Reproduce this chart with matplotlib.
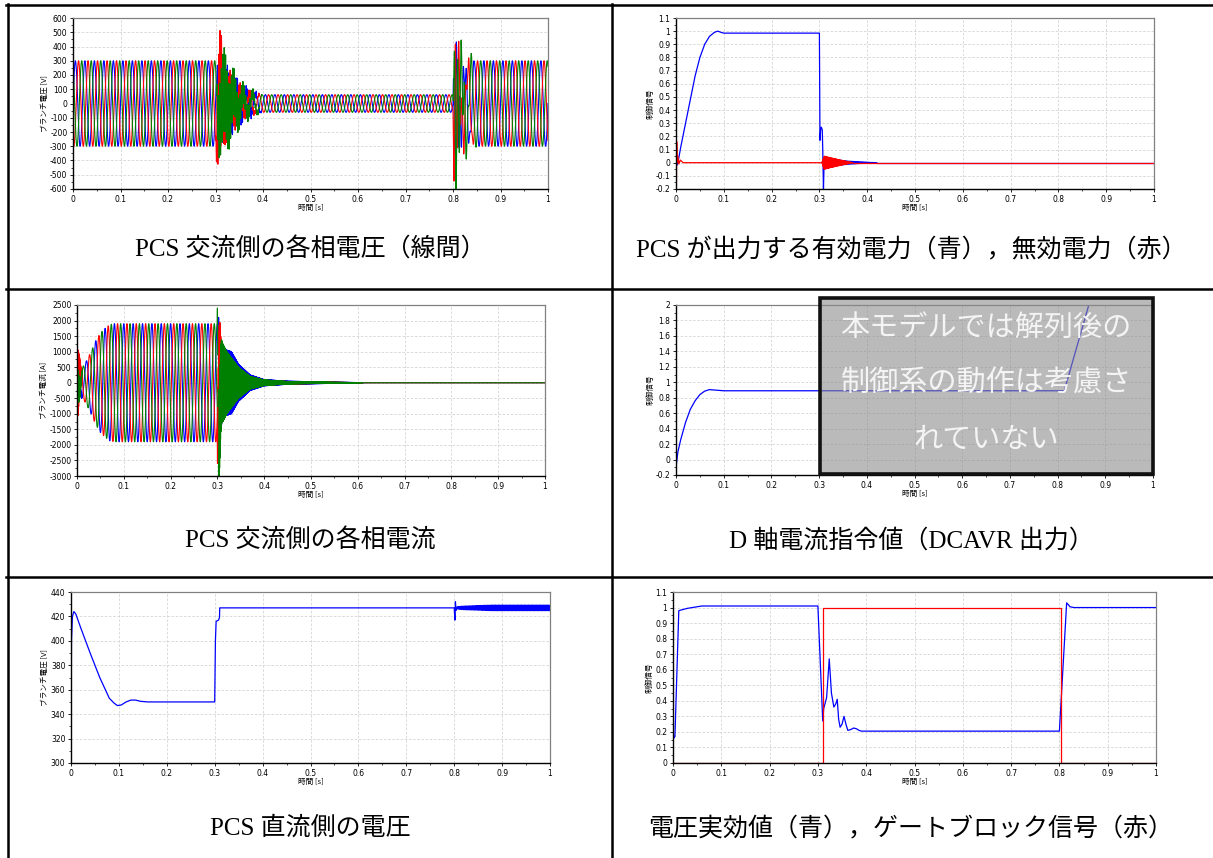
"""Six-panel PCS islanding simulation sheet (Scilab-style plots inside a table)."""
import numpy as np
import matplotlib
matplotlib.use("Agg")
import matplotlib.pyplot as plt
from matplotlib.lines import Line2D
from matplotlib.patches import Rectangle

JP = ["Noto Sans CJK JP", "DejaVu Sans"]
SERIF_JP = ["Liberation Serif", "Noto Sans CJK JP"]
plt.rcParams["font.family"] = ["DejaVu Sans", "Noto Sans CJK JP"]

W, H = 1213, 858

# ---------------- common x axis ----------------
x_ticks = [0, 0.1, 0.2, 0.3, 0.4, 0.5, 0.6, 0.7, 0.8, 0.9, 1.0]
x_labels = ["0", "0.1", "0.2", "0.3", "0.4", "0.5", "0.6", "0.7", "0.8", "0.9", "1"]
F_GRID = 50.0                      # fundamental [Hz]
phase_colors = ["blue", "red", "green"]
phase_shift_deg = [0, -120, 120]

# ---------------- panel 1: AC line voltages [V] ----------------
v_fund_t = [0.0, 0.300, 0.310, 0.360, 0.400, 0.800, 0.806, 0.830, 0.845, 1.0]
v_fund_a = [300, 300, 110, 75, 62, 62, 120, 260, 300, 300]
v_tr1_t = [0.300, 0.304, 0.310, 0.320, 0.335, 0.360, 0.400]
v_tr1_blue = [0, 60, 150, 190, 130, 60, 0]
v_tr1_red = [0, 300, 430, 200, 120, 40, 0]
v_tr1_green = [0, 150, 280, 290, 180, 70, 0]
v_tr2_t = [0.800, 0.802, 0.806, 0.815, 0.830, 0.850]
v_tr2_blue = [0, 480, 350, 200, 100, 0]
v_tr2_red = [0, 540, 450, 200, 100, 0]
v_tr2_green = [0, 300, 540, 300, 120, 0]

# ---------------- panel 3: AC phase currents [A] ----------------
i_fund_t = [0.0, 0.005, 0.010, 0.020, 0.030, 0.040, 0.050, 0.060, 0.070, 0.080, 0.303, 0.310]
i_fund_a = [0, 250, 450, 700, 1000, 1350, 1600, 1750, 1870, 1900, 1900, 0]
i_hf_t = [0.0, 0.002, 0.008, 0.012, 0.301, 0.303, 0.310, 0.320, 0.330,
          0.345, 0.370, 0.400, 0.450, 0.550, 0.620]
i_hf_blue = [0, 400, 100, 0, 0, 1000, 1100, 1050, 1000, 600, 250, 100, 50, 20, 0]
i_hf_red = [0, 1100, 200, 0, 0, 800, 700, 650, 550, 400, 200, 80, 40, 15, 0]
i_hf_green = [0, 550, 150, 0, 0, 1500, 1300, 1000, 800, 500, 200, 90, 40, 15, 0]
i_spike_red_t = [0.2996, 0.3002, 0.3008]
i_spike_red_v = [-1500, -2600, -800]
i_spike_green_t = [0.2994, 0.3000, 0.3006]
i_spike_green_v = [1500, 2400, 900]

# ---------------- panel 2: active (blue) / reactive (red) power ----------------
p_t = [0, 0.002, 0.004, 0.01, 0.02, 0.03, 0.04, 0.05, 0.06, 0.07, 0.08, 0.087, 0.095,
       0.1, 0.3, 0.3012, 0.3025, 0.304, 0.306, 0.307, 0.3085, 0.3095, 0.311]
p_v = [0, -0.02, 0.0, 0.12, 0.30, 0.48, 0.66, 0.80, 0.90, 0.96, 0.99, 1.0, 0.99,
       0.985, 0.985, 0.17, 0.25, 0.27, 0.25, 0.1, -0.2, -0.05, 0.0]
p_osc_t = [0.311, 0.315, 0.330, 0.360, 0.420]
p_osc_a = [0.04, 0.03, 0.025, 0.012, 0.0]
p_tail_t = [0.420, 1.0]
p_tail_v = [0.0, 0.0]
q_t = [0, 0.0008, 0.0015, 0.0025, 0.004, 0.006, 0.009, 0.015, 0.03, 0.305]
q_v = [0, -0.2, 0.16, 0.0, 0.05, -0.01, 0.02, 0.0, 0.0, 0.0]
q_osc_t = [0.305, 0.310, 0.320, 0.350, 0.370]
q_osc_a = [0.0, 0.05, 0.04, 0.015, 0.0]
q_tail_t = [0.370, 1.0]
q_tail_v = [0.0, 0.0]

# ---------------- panel 4: D-axis current command ----------------
d_t = [0, 0.001, 0.004, 0.01, 0.02, 0.03, 0.04, 0.05, 0.06, 0.07, 0.08, 0.1, 0.814, 0.87]
d_v = [-0.1, -0.05, 0.1, 0.26, 0.48, 0.65, 0.76, 0.84, 0.885, 0.905, 0.9, 0.89, 0.89, 2.1]

# ---------------- panel 5: DC-side voltage [V] ----------------
vdc_t = [0, 0.001, 0.003, 0.006, 0.01, 0.02, 0.04, 0.06, 0.08, 0.09, 0.097, 0.105,
         0.115, 0.125, 0.135, 0.145, 0.16, 0.3, 0.3015, 0.303, 0.308, 0.31, 0.3105,
         0.8, 0.8015, 0.8025, 0.804, 0.806]
vdc_v = [300, 400, 420, 424, 422, 411, 390, 370, 353, 349, 347, 347.5,
         350, 351.5, 351.5, 350.5, 350, 350, 400, 416, 417, 419, 427,
         427, 417, 432, 425, 427]
vdc_rip_t = [0.806, 0.820, 0.880, 1.0]
vdc_rip_a = [1.0, 1.5, 2.3, 2.3]
VDC_FINAL = 427

# ---------------- panel 6: RMS voltage (blue) / gate block (red) ----------------
vr_t = [0, 0.002, 0.004, 0.012, 0.03, 0.06, 0.3, 0.31, 0.312, 0.318, 0.3235, 0.328,
        0.333, 0.337, 0.340, 0.343, 0.346, 0.350, 0.354, 0.358, 0.362, 0.368,
        0.374, 0.38, 0.385, 0.39, 0.8, 0.815, 0.818, 0.822, 0.83, 1.0]
vr_v = [0.2, 0.16, 0.17, 0.98, 0.995, 1.01, 1.01, 0.27, 0.35, 0.42, 0.67, 0.45,
        0.36, 0.38, 0.41, 0.28, 0.23, 0.25, 0.30, 0.25, 0.21, 0.215,
        0.225, 0.22, 0.21, 0.205, 0.205, 1.03, 1.02, 1.005, 1.0, 1.0]
gb_t = [0, 0.31, 0.31, 0.803, 0.803, 1.0]
gb_v = [0, 0, 1, 1, 0, 0]

t = np.linspace(0, 1, 50001)


def carrier(tt, env_t, env_a, freq, phase_deg=0.0):
    env = np.interp(tt, env_t, env_a, left=0, right=0)
    return env * np.sin(2 * np.pi * freq * tt + np.radians(phase_deg))


def px_axes(fig, left, right, top, bottom):
    return fig.add_axes([left / W, 1 - bottom / H, (right - left) / W, (bottom - top) / H])


def style(ax, yticks, ylabels, ylabel):
    ax.set_xlim(0, 1)
    ax.set_ylim(yticks[0], yticks[-1])
    ax.set_xticks(x_ticks)
    ax.set_xticklabels(x_labels)
    ax.set_yticks(yticks)
    ax.set_yticklabels(ylabels)
    ax.set_xticks(np.arange(0.05, 1.0, 0.1), minor=True)
    ym = (np.array(yticks[:-1]) + np.array(yticks[1:])) / 2
    ax.set_yticks(ym, minor=True)
    ax.grid(True, which="major", color="#d4d4d4", ls=(0, (3, 2)), lw=0.6)
    for s in ("left", "bottom"):
        ax.spines[s].set_color("black")
        ax.spines[s].set_linewidth(1.0)
    for s in ("top", "right"):
        ax.spines[s].set_color("#808080")
        ax.spines[s].set_linewidth(0.9)
    ax.tick_params(which="major", labelsize=5.5, length=2.5, width=0.6, pad=1.5)
    ax.tick_params(which="minor", length=1.5, width=0.5)
    ax.set_ylabel(ylabel, fontsize=5.5, family=JP, labelpad=1)
    ax.set_xlabel("時間 [s]", fontsize=5.5, family=JP, labelpad=0.5)


fig = plt.figure(figsize=(W / 100, H / 100), dpi=100)

# ---- panel 1
ax = px_axes(fig, 73, 548, 18, 189)
tr1 = [v_tr1_blue, v_tr1_red, v_tr1_green]
tr2 = [v_tr2_blue, v_tr2_red, v_tr2_green]
for k, c in enumerate(phase_colors):
    y = (carrier(t, v_fund_t, v_fund_a, F_GRID, phase_shift_deg[k])
         + carrier(t, v_tr1_t, tr1[k], 330.0, 40 * k)
         + carrier(t, v_tr2_t, tr2[k], 140.0, 90 + 110 * k))
    ax.plot(t, y, color=c, lw=0.8)
style(ax, list(range(-600, 601, 100)), [str(v) for v in range(-600, 601, 100)], "ブランチ電圧 [V]")

# ---- panel 2
ax = px_axes(fig, 676, 1154, 18, 189)
ax.plot(p_t, p_v, color="blue", lw=0.9)
tt = t[(t >= p_osc_t[0]) & (t <= p_osc_t[-1])]
ax.plot(tt, carrier(tt, p_osc_t, p_osc_a, 420.0), color="blue", lw=0.9)
ax.plot(p_tail_t, p_tail_v, color="blue", lw=0.9)
ax.plot(q_t, q_v, color="red", lw=0.9)
tt = t[(t >= q_osc_t[0]) & (t <= q_osc_t[-1])]
ax.plot(tt, carrier(tt, q_osc_t, q_osc_a, 700.0), color="red", lw=0.9)
ax.plot(q_tail_t, q_tail_v, color="red", lw=0.9)
yt = [round(-0.2 + 0.1 * i, 1) for i in range(14)]
style(ax, yt, ["%g" % v for v in yt], "制御信号")

# ---- panel 3
ax = px_axes(fig, 77, 545, 305, 476)
hf = [i_hf_blue, i_hf_red, i_hf_green]
for k, c in enumerate(phase_colors):
    y = (carrier(t, i_fund_t, i_fund_a, F_GRID, phase_shift_deg[k] + 90)
         + carrier(t, i_hf_t, hf[k], 1500.0, 70 * k + 90))
    ax.plot(t, y, color=c, lw=0.8)
ax.plot(i_spike_red_t, i_spike_red_v, color="red", lw=0.8)
ax.plot(i_spike_green_t, i_spike_green_v, color="green", lw=0.8)
style(ax, list(range(-3000, 2501, 500)), [str(v) for v in range(-3000, 2501, 500)], "ブランチ電流 [A]")

# ---- panel 4
ax = px_axes(fig, 676, 1153, 305, 475)
ax.plot(d_t, d_v, color="blue", lw=0.9)
yt = [round(-0.2 + 0.2 * i, 1) for i in range(12)]
style(ax, yt, ["%g" % v for v in yt], "制御信号")
ax.add_patch(Rectangle((0.302, 0.006), 0.698, 1.035, transform=ax.transAxes,
                       facecolor=(0.55, 0.55, 0.55, 0.6), edgecolor="#111111",
                       lw=2.6, clip_on=False, zorder=5))
for txt, ypix in [("本モデルでは解列後の", 328), ("制御系の動作は考慮さ", 384), ("れていない", 440)]:
    fig.text(986 / W, 1 - ypix / H, txt, color="#f4f4f4", fontsize=21, family=JP,
             ha="center", va="center", zorder=10)

# ---- panel 5
ax = px_axes(fig, 71, 550, 592, 763)
ax.plot(vdc_t, vdc_v, color="blue", lw=0.9)
tt = t[t >= vdc_rip_t[0]]
ax.plot(tt, VDC_FINAL + carrier(tt, vdc_rip_t, vdc_rip_a, 350.0), color="blue", lw=0.9)
style(ax, list(range(300, 441, 20)), [str(v) for v in range(300, 441, 20)], "ブランチ電圧 [V]")

# ---- panel 6
ax = px_axes(fig, 673, 1156, 592, 763)
ax.plot(vr_t, vr_v, color="blue", lw=0.9)
ax.plot(gb_t, gb_v, color="red", lw=0.9)
yt = [round(0.1 * i, 1) for i in range(12)]
style(ax, yt, ["%g" % v for v in yt], "制御信号")

# ---- captions
captions = [
    ("PCS 交流側の各相電圧（線間）", 310, 250),
    ("PCS が出力する有効電力（青），無効電力（赤）", 911, 250),
    ("PCS 交流側の各相電流", 310, 541),
    ("D 軸電流指令値（DCAVR 出力）", 911, 541),
    ("PCS 直流側の電圧", 310, 828),
    ("電圧実効値（青），ゲートブロック信号（赤）", 911, 828),
]
for txt, xp, yp in captions:
    fig.text(xp / W, 1 - yp / H, txt, fontsize=18, family=SERIF_JP, ha="center", va="center")

# ---- table rules
def rule(x0, y0, x1, y1):
    fig.add_artist(Line2D([x0 / W, x1 / W], [1 - y0 / H, 1 - y1 / H], color="black", lw=1.8))

rule(6, 4.5, W, 4.5)
rule(6, 288.5, W, 288.5)
rule(6, 577, W, 577)
rule(7.5, 4, 7.5, H)
rule(612, 4, 612, H)

fig.savefig("out.png", dpi=100)
